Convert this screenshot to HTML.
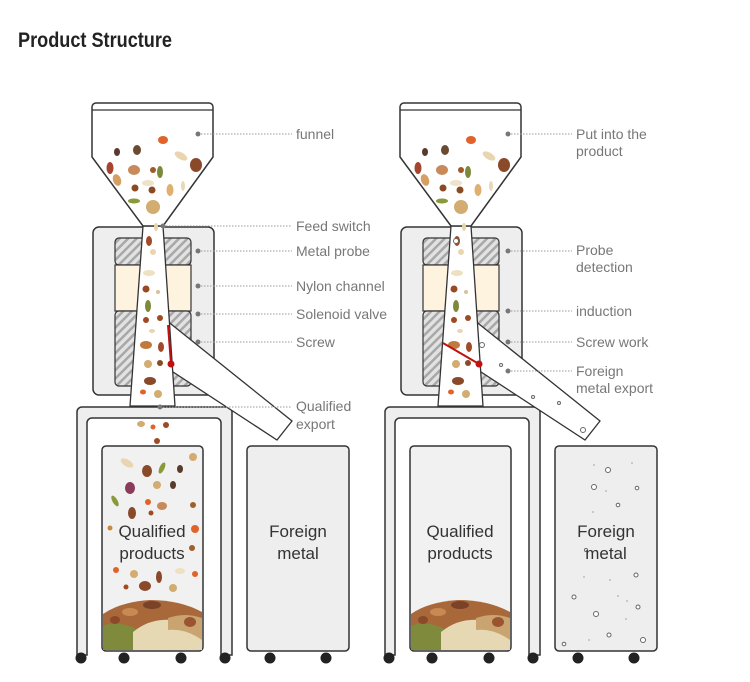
<!DOCTYPE html>
<html><head><meta charset="utf-8"><style>
html,body{margin:0;padding:0;background:#fff;}
svg{display:block;}
.lb{font-family:"Liberation Sans",sans-serif;font-size:14px;fill:#777;}
.bt{font-family:"Liberation Sans",sans-serif;font-size:17px;fill:#333;}
</style></head><body>
<svg width="750" height="682" viewBox="0 0 750 682" xmlns="http://www.w3.org/2000/svg">
<defs>
<pattern id="h" width="6" height="6" patternUnits="userSpaceOnUse" patternTransform="rotate(45)">
<rect width="6" height="6" fill="#e2e2e2"/><rect width="2.5" height="6" fill="#a8a8a8"/>
</pattern>
<g id="m">
 <!-- frame -->
 <path d="M77,655 V412 a5,5 0 0 1 5,-5 H227 a5,5 0 0 1 5,5 V655 H221 V423 a5,5 0 0 0 -5,-5 H92 a5,5 0 0 0 -5,5 V655 Z" fill="#eee" stroke="#333" stroke-width="1.5"/>
 <!-- box -->
 <rect x="93" y="227" width="121" height="168" rx="6" fill="#eee" stroke="#333" stroke-width="1.5"/>
 <rect x="115" y="238" width="76" height="27" rx="4" fill="url(#h)" stroke="#333" stroke-width="1.2"/>
 <rect x="115" y="265" width="76" height="46" fill="#fdf3de" stroke="#333" stroke-width="1.2"/>
 <rect x="115" y="311" width="76" height="75" rx="4" fill="url(#h)" stroke="#333" stroke-width="1.2"/>
 <!-- chute -->
 <path d="M166,320 L292,421 L277,440 L170,370 Z" fill="#fff" stroke="#333" stroke-width="1.3"/>
 <!-- channel -->
 <path d="M143,226 L163,226 L175,406 L130,406 Z" fill="#fff" stroke="#333" stroke-width="1.3"/>
 <path d="M164,322 L170,372" stroke="#fff" stroke-width="3"/>
 <!-- funnel -->
 <path d="M92,107 a4,4 0 0 1 4,-4 H209 a4,4 0 0 1 4,4 V157 L163,226 H143 L92,157 Z" fill="#fff" stroke="#333" stroke-width="1.5"/>
 <line x1="92" y1="110" x2="213" y2="110" stroke="#333" stroke-width="1.2"/>
 <!-- bins -->
 <rect x="102" y="446" width="101" height="205" rx="4" fill="#f1f1f1" stroke="#333" stroke-width="1.5"/>
 <rect x="247" y="446" width="102" height="205" rx="4" fill="#eee" stroke="#333" stroke-width="1.5"/>
 <g fill="#222"><circle cx="81" cy="658" r="5.5"/><circle cx="124" cy="658" r="5.5"/><circle cx="181" cy="658" r="5.5"/><circle cx="225" cy="658" r="5.5"/><circle cx="270" cy="658" r="5.5"/><circle cx="326" cy="658" r="5.5"/></g>
 <!-- funnel nuts -->
 <g>
  <ellipse cx="163" cy="140" rx="5" ry="4" fill="#e0642a"/>
  <ellipse cx="117" cy="152" rx="3" ry="4" fill="#5a3a2a"/>
  <ellipse cx="137" cy="150" rx="4" ry="5" fill="#6b4a30"/>
  <ellipse cx="181" cy="156" rx="7" ry="3.5" fill="#e9d6b0" transform="rotate(30 181 156)"/>
  <ellipse cx="196" cy="165" rx="6" ry="7" fill="#8a4a2a"/>
  <ellipse cx="110" cy="168" rx="3.5" ry="6" fill="#a3452f"/>
  <ellipse cx="134" cy="170" rx="6" ry="5" fill="#c88a5a"/>
  <ellipse cx="153" cy="170" rx="3" ry="3" fill="#a05a2a"/>
  <ellipse cx="160" cy="172" rx="3" ry="6" fill="#7a8a3a"/>
  <ellipse cx="117" cy="180" rx="4" ry="6" fill="#d7a062" transform="rotate(-20 117 180)"/>
  <ellipse cx="148" cy="183" rx="6" ry="3" fill="#eee2c8"/>
  <circle cx="135" cy="188" r="3.5" fill="#8a4a22"/>
  <circle cx="152" cy="190" r="3.5" fill="#8a4a22"/>
  <ellipse cx="170" cy="190" rx="3.5" ry="6" fill="#e0b070"/>
  <ellipse cx="183" cy="186" rx="2" ry="5" fill="#e9d8b8"/>
  <ellipse cx="134" cy="201" rx="6" ry="2.5" fill="#8a9a3a"/>
  <ellipse cx="153" cy="207" rx="7" ry="7" fill="#d2ac70"/>
  <ellipse cx="156" cy="227" rx="2" ry="4" fill="#e6d5a8"/>
  <ellipse cx="149" cy="241" rx="3" ry="5" fill="#a04a2a"/>
  <ellipse cx="153" cy="252" rx="3" ry="3" fill="#e9d6b0"/>
  <ellipse cx="149" cy="273" rx="6" ry="3" fill="#eee0c0"/>
  <circle cx="146" cy="289" r="3.5" fill="#9a4a22"/>
  <circle cx="158" cy="292" r="2" fill="#d8c09a"/>
  <ellipse cx="148" cy="306" rx="3" ry="6" fill="#7e8a3a"/>
  <circle cx="146" cy="320" r="3" fill="#a04a22"/>
  <circle cx="160" cy="318" r="3" fill="#a04a22"/>
  <ellipse cx="152" cy="331" rx="3" ry="2" fill="#e9d6b0"/>
  <ellipse cx="146" cy="345" rx="6" ry="4" fill="#c07a3e"/>
  <ellipse cx="161" cy="347" rx="3" ry="5" fill="#a04a2a"/>
  <ellipse cx="148" cy="364" rx="4" ry="4" fill="#d2ac70"/>
  <circle cx="160" cy="363" r="3" fill="#8a4a22"/>
  <ellipse cx="150" cy="381" rx="6" ry="4" fill="#8a4a2a"/>
  <ellipse cx="143" cy="392" rx="3" ry="2.5" fill="#e0642a"/>
  <ellipse cx="158" cy="394" rx="4" ry="4" fill="#d2ac70"/>
 </g>
</g>
</defs>

<text x="18" y="47" font-family="'Liberation Sans Narrow','Liberation Sans',sans-serif" font-weight="bold" font-size="21" fill="#222" textLength="154" lengthAdjust="spacingAndGlyphs">Product Structure</text>

<use href="#m"/>
<use href="#m" x="308"/>

<!-- left red flap -->
<line x1="168" y1="325" x2="171" y2="364" stroke="#c01010" stroke-width="2"/>
<circle cx="171" cy="364" r="3.5" fill="#c01010"/>
<!-- right red flap -->
<line x1="443" y1="343" x2="479" y2="364" stroke="#c01010" stroke-width="2"/>
<circle cx="479" cy="364" r="3.5" fill="#c01010"/>

<!-- falling nuts left qualified -->
<g>
 <ellipse cx="141" cy="424" rx="4" ry="3" fill="#d2ac70"/><circle cx="153" cy="427" r="2.5" fill="#e0642a"/><circle cx="166" cy="425" r="3" fill="#a04a22"/>
 <circle cx="157" cy="441" r="3" fill="#a04a22"/>
 <ellipse cx="127" cy="463" rx="7" ry="3.5" fill="#e9d6b0" transform="rotate(30 127 463)"/><ellipse cx="147" cy="471" rx="5" ry="6" fill="#8a4a2a"/><ellipse cx="162" cy="468" rx="2.5" ry="6" fill="#8a9a3a" transform="rotate(25 162 468)"/><ellipse cx="180" cy="469" rx="3" ry="4" fill="#5a3a2a"/><ellipse cx="193" cy="457" rx="4" ry="4" fill="#d2ac70"/>
 <ellipse cx="130" cy="488" rx="5" ry="6" fill="#8a3a5a"/><ellipse cx="157" cy="485" rx="4" ry="4" fill="#d2ac70"/><ellipse cx="173" cy="485" rx="3" ry="4" fill="#5a3a2a"/>
 <ellipse cx="115" cy="501" rx="2.5" ry="6" fill="#8a9a3a" transform="rotate(-30 115 501)"/><ellipse cx="162" cy="506" rx="5" ry="4" fill="#c88a5a"/><circle cx="148" cy="502" r="3" fill="#e0642a"/><circle cx="193" cy="505" r="3" fill="#a0602a"/>
 <ellipse cx="132" cy="513" rx="4" ry="6" fill="#8a4a2a"/><circle cx="151" cy="513" r="2.5" fill="#a04a22"/>
 <circle cx="195" cy="529" r="4" fill="#e0642a"/><circle cx="110" cy="528" r="2.5" fill="#c88a3a"/>
 <circle cx="192" cy="548" r="3" fill="#a0602a"/>
 <circle cx="116" cy="570" r="3" fill="#e0642a"/><circle cx="134" cy="574" rx="4" r="4" fill="#d2ac70"/><ellipse cx="159" cy="577" rx="3" ry="6" fill="#8a4a2a"/><ellipse cx="180" cy="571" rx="5" ry="3" fill="#eee0c0"/><circle cx="195" cy="574" r="3" fill="#e0642a"/>
 <ellipse cx="145" cy="586" rx="6" ry="5" fill="#8a4a2a"/><ellipse cx="173" cy="588" rx="4" ry="4" fill="#d2ac70"/><circle cx="126" cy="587" r="2.5" fill="#a04a22"/>
</g>
<g id="pile">
 <path d="M103,650 V614 Q120,602 150,600 Q180,600 202,612 V650 Z" fill="#a8683a"/>
 <path d="M103,650 V626 Q115,620 135,628 V650 Z" fill="#7f8a3c"/>
 <path d="M133,650 V632 Q150,618 172,620 Q190,625 202,630 V650 Z" fill="#e7d8b4"/>
 <path d="M168,618 Q185,612 202,618 V640 Q185,628 168,630 Z" fill="#c9a470"/>
 <ellipse cx="130" cy="612" rx="8" ry="4" fill="#c88a52"/><ellipse cx="152" cy="605" rx="9" ry="4" fill="#7a4226"/><ellipse cx="190" cy="622" rx="6" ry="5" fill="#9a5530"/><ellipse cx="115" cy="620" rx="5" ry="4" fill="#8a4a2a"/>
</g>
<g transform="translate(308,0)">
 <path d="M103,650 V614 Q120,602 150,600 Q180,600 202,612 V650 Z" fill="#a8683a"/>
 <path d="M103,650 V626 Q115,620 135,628 V650 Z" fill="#7f8a3c"/>
 <path d="M133,650 V632 Q150,618 172,620 Q190,625 202,630 V650 Z" fill="#e7d8b4"/>
 <path d="M168,618 Q185,612 202,618 V640 Q185,628 168,630 Z" fill="#c9a470"/>
 <ellipse cx="130" cy="612" rx="8" ry="4" fill="#c88a52"/><ellipse cx="152" cy="605" rx="9" ry="4" fill="#7a4226"/><ellipse cx="190" cy="622" rx="6" ry="5" fill="#9a5530"/><ellipse cx="115" cy="620" rx="5" ry="4" fill="#8a4a2a"/>
</g>
<!-- right metal balls -->
<g fill="#fff" stroke="#666" stroke-width="1">
 <circle cx="456" cy="241" r="2.5"/><circle cx="482" cy="345" r="2.5"/><circle cx="501" cy="365" r="1.5"/><circle cx="533" cy="397" r="1.5"/><circle cx="559" cy="403" r="1.5"/><circle cx="583" cy="430" r="2.5"/>
 <circle cx="608" cy="470" r="2.5"/><circle cx="594" cy="487" r="2.5"/><circle cx="637" cy="488" r="1.8"/><circle cx="618" cy="505" r="1.8"/><circle cx="586" cy="550" r="1.5"/><circle cx="636" cy="575" r="2"/><circle cx="574" cy="597" r="2"/><circle cx="638" cy="607" r="2"/><circle cx="596" cy="614" r="2.5"/><circle cx="609" cy="635" r="2"/><circle cx="643" cy="640" r="2.5"/><circle cx="564" cy="644" r="1.8"/>
</g>
<g fill="#bbb"><circle cx="594" cy="465" r="1"/><circle cx="632" cy="463" r="1"/><circle cx="606" cy="491" r="1"/><circle cx="593" cy="512" r="1"/><circle cx="584" cy="577" r="1"/><circle cx="610" cy="580" r="1"/><circle cx="618" cy="596" r="1"/><circle cx="627" cy="601" r="1"/><circle cx="626" cy="619" r="1"/><circle cx="589" cy="640" r="1"/></g>

<!-- bin texts -->
<g class="bt" text-anchor="middle">
 <text x="152" y="537">Qualified</text><text x="152" y="559">products</text>
 <text x="298" y="537">Foreign</text><text x="298" y="559">metal</text>
 <text x="460" y="537">Qualified</text><text x="460" y="559">products</text>
 <text x="606" y="537">Foreign</text><text x="606" y="559">metal</text>
</g>

<!-- leader lines left -->
<g stroke="#999" stroke-width="1" stroke-dasharray="1.5,1.5">
 <line x1="198" y1="134" x2="292" y2="134"/><line x1="163" y1="226" x2="292" y2="226"/><line x1="198" y1="251" x2="292" y2="251"/><line x1="198" y1="286" x2="292" y2="286"/><line x1="198" y1="314" x2="292" y2="314"/><line x1="198" y1="342" x2="292" y2="342"/><line x1="160" y1="407" x2="292" y2="407"/>
 <line x1="508" y1="134" x2="572" y2="134"/><line x1="508" y1="251" x2="572" y2="251"/><line x1="508" y1="311" x2="572" y2="311"/><line x1="508" y1="342" x2="572" y2="342"/><line x1="508" y1="371" x2="572" y2="371"/>
</g>
<g fill="#777">
 <circle cx="198" cy="134" r="2.5"/><circle cx="163" cy="226" r="2.5"/><circle cx="198" cy="251" r="2.5"/><circle cx="198" cy="286" r="2.5"/><circle cx="198" cy="314" r="2.5"/><circle cx="198" cy="342" r="2.5"/><circle cx="160" cy="407" r="2.5"/>
 <circle cx="508" cy="134" r="2.5"/><circle cx="508" cy="251" r="2.5"/><circle cx="508" cy="311" r="2.5"/><circle cx="508" cy="342" r="2.5"/><circle cx="508" cy="371" r="2.5"/>
</g>
<g class="lb">
 <text x="296" y="139">funnel</text>
 <text x="296" y="231">Feed switch</text>
 <text x="296" y="256">Metal probe</text>
 <text x="296" y="291">Nylon channel</text>
 <text x="296" y="319">Solenoid valve</text>
 <text x="296" y="347">Screw</text>
 <text x="296" y="411">Qualified</text><text x="296" y="429">export</text>
 <text x="576" y="139">Put into the</text><text x="576" y="156">product</text>
 <text x="576" y="255">Probe</text><text x="576" y="272">detection</text>
 <text x="576" y="316">induction</text>
 <text x="576" y="347">Screw work</text>
 <text x="576" y="376">Foreign</text><text x="576" y="393">metal export</text>
</g>
</svg>
</body></html>
